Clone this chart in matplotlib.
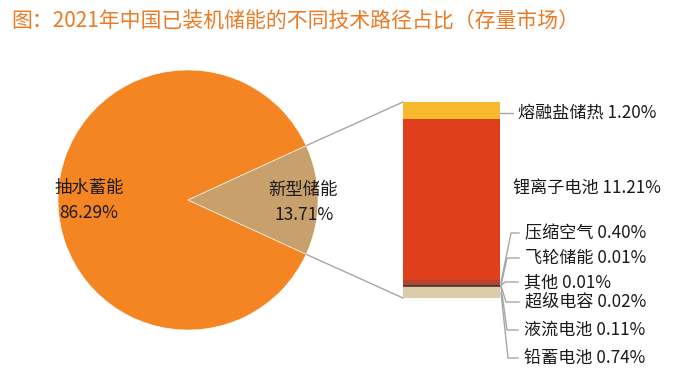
import matplotlib
matplotlib.use("Agg")
import matplotlib.pyplot as plt
from matplotlib.patches import ConnectionPatch
from matplotlib.lines import Line2D
import numpy as np

plt.rcParams['font.family'] = ['Noto Sans CJK SC', 'DejaVu Sans']

# ---------------- data ----------------
pie_labels = ["抽水蓄能", "新型储能"]
pie_values = [86.29, 13.71]
pie_colors = ["#F58522", "#C8A06B"]

bar_labels = ["铅蓄电池", "液流电池", "超级电容", "其他", "飞轮储能", "压缩空气", "锂离子电池", "熔融盐储热"]
bar_values = [0.74, 0.11, 0.02, 0.01, 0.01, 0.40, 11.21, 1.20]
bar_colors = ["#DCCBA8", "#6E4B3E", "#8B2B2B", "#3E3E3E", "#A34A34", "#B8412F", "#DF3F1A", "#F9B92C"]

title = "图：2021年中国已装机储能的不同技术路径占比（存量市场）"

W, H = 693, 381
fig = plt.figure(figsize=(W / 100, H / 100), dpi=100)

def fx(x):
    return x / W

def fy(y):
    return 1 - y / H

# ---------------- title ----------------
fig.text(fx(11), fy(22), title, color="#EB7A24", fontsize=15, fontweight="medium",
         va="center", ha="left")

# ---------------- pie ----------------
cx, cy, r = 188, 200, 130
ax_pie = fig.add_axes([fx(cx - r), fy(cy + r), 2 * r / W, 2 * r / H])
start = pie_values[1] / sum(pie_values) * 360 / 2
wedges, _ = ax_pie.pie(pie_values, colors=pie_colors, startangle=start, radius=1,
                       wedgeprops=dict(edgecolor="white", linewidth=0.4))
ax_pie.set_xlim(-1, 1)
ax_pie.set_ylim(-1, 1)
ax_pie.set_aspect("auto")
ax_pie.axis("off")

fig.text(fx(89), fy(188), pie_labels[0], fontsize=12.5, ha="center", va="center", color="#1a1a1a")
fig.text(fx(89), fy(213), f"{pie_values[0]:.2f}%", fontsize=12.5, ha="center", va="center", color="#1a1a1a")
fig.text(fx(303), fy(190), pie_labels[1], fontsize=12.5, ha="center", va="center", color="#1a1a1a")
fig.text(fx(304), fy(215), f"{pie_values[1]:.2f}%", fontsize=12.5, ha="center", va="center", color="#1a1a1a")

# ---------------- stacked bar ----------------
bx0, bx1, by0, by1 = 403, 500, 102, 298
ax_bar = fig.add_axes([fx(bx0), fy(by1), (bx1 - bx0) / W, (by1 - by0) / H])
total = sum(bar_values)
bottom = 0
mids = []
for v, c in zip(bar_values, bar_colors):
    ax_bar.bar(0, v, width=1, bottom=bottom, color=c, linewidth=0)
    mids.append(bottom + v / 2)
    bottom += v
ax_bar.set_xlim(-0.5, 0.5)
ax_bar.set_ylim(0, total)
ax_bar.axis("off")

# connection lines from pie wedge to bar
theta = np.deg2rad(start)
for sgn, yb in [(1, total), (-1, 0)]:
    con = ConnectionPatch(xyA=(np.cos(theta), sgn * np.sin(theta)), coordsA=ax_pie.transData,
                          xyB=(-0.5, yb), coordsB=ax_bar.transData,
                          color="#A6A6A6", linewidth=1)
    fig.add_artist(con)

# labels for bar segments: (text x, text y, elbow x) in pixel layout
label_layout = {
    "熔融盐储热": (518, 113, None),
    "锂离子电池": (513, 189, "none"),
    "压缩空气": (525, 233, 511),
    "飞轮储能": (525, 258, 507),
    "其他": (524, 282, 505),
    "超级电容": (525, 302, 506),
    "液流电池": (524, 330, 507),
    "铅蓄电池": (524, 358, 508),
}

for name, v, m in zip(bar_labels, bar_values, mids):
    tx, ty, ex = label_layout[name]
    fig.text(fx(tx), fy(ty), f"{name} {v:.2f}%", fontsize=12.3, ha="left", va="center", color="#1a1a1a")
    if ex == "none":
        continue
    # anchor on the bar right edge
    ax_disp = ax_bar.transData.transform((0.5, m))
    axp, ayp = ax_disp[0], H - ax_disp[1]
    if ex is None:
        xs, ys = [axp, tx - 5], [ty, ty]
    else:
        xs, ys = [axp + 1, ex, tx - 6], [ayp, ty, ty]
    fig.add_artist(Line2D([fx(x) for x in xs], [fy(y) for y in ys], transform=fig.transFigure,
                          color="#A6A6A6", linewidth=1))

fig.savefig("out.png", dpi=100)
